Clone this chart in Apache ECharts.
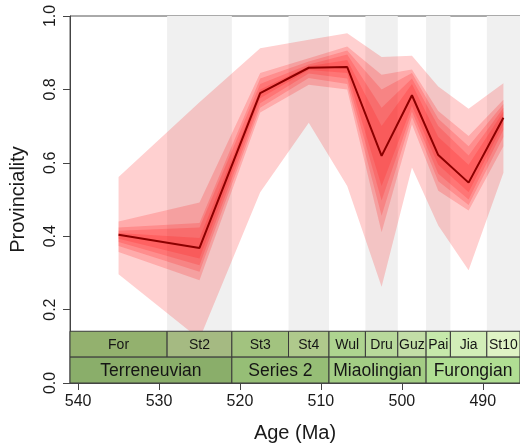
<!DOCTYPE html>
<html>
<head>
<meta charset="utf-8">
<script src="https://cdn.jsdelivr.net/npm/echarts@6/dist/echarts.min.js"></script>
<style>html,body{margin:0;padding:0;background:#fff}#c{width:520px;height:448px}</style>
</head>
<body>
<div id="c"></div>
<script>
// ---- data ----
const stageNames = ['For','St2','St3','St4','Wul','Dru','Guz','Pai','Jia','St10'];
const stageBounds = [541, 529, 521, 514, 509, 504.5, 500.5, 497, 494, 489.5, 485.4];
const seriesNames = ['Terreneuvian','Series 2','Miaolingian','Furongian'];
const seriesBounds = [541, 521, 509, 497, 485.4];
const ages = [535, 525, 517.5, 511.5, 506.75, 502.5, 498.75, 495.5, 491.75, 487.45];
const median = [0.404, 0.368, 0.790, 0.859, 0.861, 0.619, 0.784, 0.621, 0.546, 0.723];
const outerHi = [0.561, 0.765, 0.912, 0.935, 0.953, 0.888, 0.892, 0.808, 0.747, 0.817];
const outerLo = [0.296, 0.120, 0.520, 0.709, 0.537, 0.262, 0.587, 0.429, 0.307, 0.573];
const band2Hi = [0.440, 0.492, 0.845, 0.885, 0.917, 0.840, 0.854, 0.741, 0.673, 0.772];
const band2Lo = [0.357, 0.280, 0.737, 0.813, 0.800, 0.411, 0.705, 0.524, 0.470, 0.645];
const band3Hi = [0.424, 0.436, 0.830, 0.876, 0.906, 0.800, 0.845, 0.720, 0.645, 0.760];
const band3Lo = [0.373, 0.303, 0.750, 0.831, 0.815, 0.456, 0.725, 0.550, 0.485, 0.670];
const band4Hi = [0.415, 0.424, 0.815, 0.868, 0.895, 0.750, 0.830, 0.700, 0.620, 0.750];
const band4Lo = [0.384, 0.321, 0.762, 0.843, 0.830, 0.497, 0.740, 0.570, 0.500, 0.690];
const band5Hi = [0.409, 0.395, 0.800, 0.863, 0.880, 0.700, 0.815, 0.670, 0.595, 0.740];
const band5Lo = [0.393, 0.339, 0.776, 0.853, 0.845, 0.537, 0.755, 0.595, 0.520, 0.705];
const xTicks = [540, 530, 520, 510, 500, 490];

// ---- styling ----
const stageColors = ['#93b16e','#a5ba82','#a2c37f','#afc98c','#aed490','#b8d99b','#c3dea7','#c6e9ab','#d2eeb8','#dff3c5'];
const seriesColors = ['#8aae6a','#96be76','#a3cd84','#b0de93'];
const FONT = '"Liberation Sans", Arial, Helvetica, sans-serif';
const bands = [[outerLo, outerHi],[band2Lo, band2Hi],[band3Lo, band3Hi],[band4Lo, band4Hi],[band5Lo, band5Hi]];
const TS_MID = 0.0705, TS_TOP = 0.141;

const chart = echarts.init(document.getElementById('c'), null, {renderer: 'canvas'});

const grayData = [];
for (let i = 1; i < stageNames.length; i += 2) grayData.push([stageBounds[i], stageBounds[i+1]]);

const tsData = [];
stageNames.forEach((n, i) => tsData.push([stageBounds[i], stageBounds[i+1], 1, i]));
seriesNames.forEach((n, i) => tsData.push([seriesBounds[i], seriesBounds[i+1], 0, i]));

const option = {
  animation: false,
  grid: {left: 68, top: 16, right: -1, bottom: 63, show: true, borderColor: '#555', borderWidth: 1, backgroundColor: 'transparent'},
  xAxis: {
    type: 'value', min: 485.4, max: 541, inverse: true,
    name: 'Age (Ma)', nameLocation: 'middle', nameGap: 40,
    nameTextStyle: {fontSize: 20, fontFamily: FONT, color: '#1a1a1a'},
    axisLine: {show: true, lineStyle: {color: '#444', width: 1}},
    axisTick: {show: true, length: 7, customValues: xTicks, lineStyle: {color: '#444'}},
    axisLabel: {customValues: xTicks, fontSize: 16, fontFamily: FONT, color: '#1a1a1a', margin: 11},
    splitLine: {show: false}
  },
  yAxis: {
    type: 'value', min: 0, max: 1, interval: 0.2,
    name: 'Provinciality', nameLocation: 'middle', nameGap: 42, nameRotate: 90,
    nameTextStyle: {fontSize: 20, fontFamily: FONT, color: '#1a1a1a'},
    axisLine: {show: true, lineStyle: {color: '#444', width: 1}},
    axisTick: {show: true, length: 7, lineStyle: {color: '#444'}},
    axisLabel: {rotate: 90, fontSize: 16, fontFamily: FONT, color: '#1a1a1a', margin: 11,
      formatter: v => v.toFixed(1)},
    splitLine: {show: false}
  },
  series: [
    {
      type: 'custom', z: 1, silent: true, clip: true,
      data: grayData,
      renderItem: (params, api) => {
        const p0 = api.coord([api.value(0), 1]);
        const p1 = api.coord([api.value(1), 0]);
        return {type: 'rect', shape: {x: Math.min(p0[0], p1[0]), y: p0[1], width: Math.abs(p1[0]-p0[0]), height: p1[1]-p0[1]},
          style: {fill: '#f0f0f0'}};
      }
    },
    {
      type: 'custom', z: 2, silent: true, clip: true,
      data: bands.map((b, i) => [ages[0], i]),
      encode: {x: 0, y: -1},
      renderItem: (params, api) => {
        const b = bands[params.dataIndex];
        const pts = [];
        for (let i = 0; i < ages.length; i++) pts.push(api.coord([ages[i], b[1][i]]));
        for (let i = ages.length - 1; i >= 0; i--) pts.push(api.coord([ages[i], b[0][i]]));
        return {type: 'polygon', shape: {points: pts}, style: {fill: 'rgba(255,20,20,0.2)'}};
      }
    },
    {
      type: 'line', z: 3, silent: true, symbol: 'none',
      data: ages.map((a, i) => [a, median[i]]),
      lineStyle: {color: '#8b0000', width: 2}
    },
    {
      type: 'custom', z: 5, silent: true, clip: true,
      data: tsData,
      renderItem: (params, api) => {
        const row = api.value(2), idx = api.value(3);
        const yLo = row === 1 ? TS_MID : 0, yHi = row === 1 ? TS_TOP : TS_MID;
        const p0 = api.coord([api.value(0), yHi]);
        const p1 = api.coord([api.value(1), yLo]);
        const x = Math.min(p0[0], p1[0]), w = Math.abs(p1[0]-p0[0]);
        const name = row === 1 ? stageNames[idx] : seriesNames[idx];
        const fill = row === 1 ? stageColors[idx] : seriesColors[idx];
        return {type: 'group', children: [
          {type: 'rect', shape: {x: x, y: p0[1], width: w, height: p1[1]-p0[1]},
            style: {fill: fill, stroke: '#3a3a3a', lineWidth: 1}},
          {type: 'text', style: {text: name, x: x + w/2, y: (p0[1]+p1[1])/2 + 1, align: 'center', verticalAlign: 'middle',
            fontSize: row === 1 ? 14 : 17.5, fontFamily: FONT, fill: '#151515'}}
        ]};
      }
    }
  ]
};
chart.setOption(option);
</script>
</body>
</html>
